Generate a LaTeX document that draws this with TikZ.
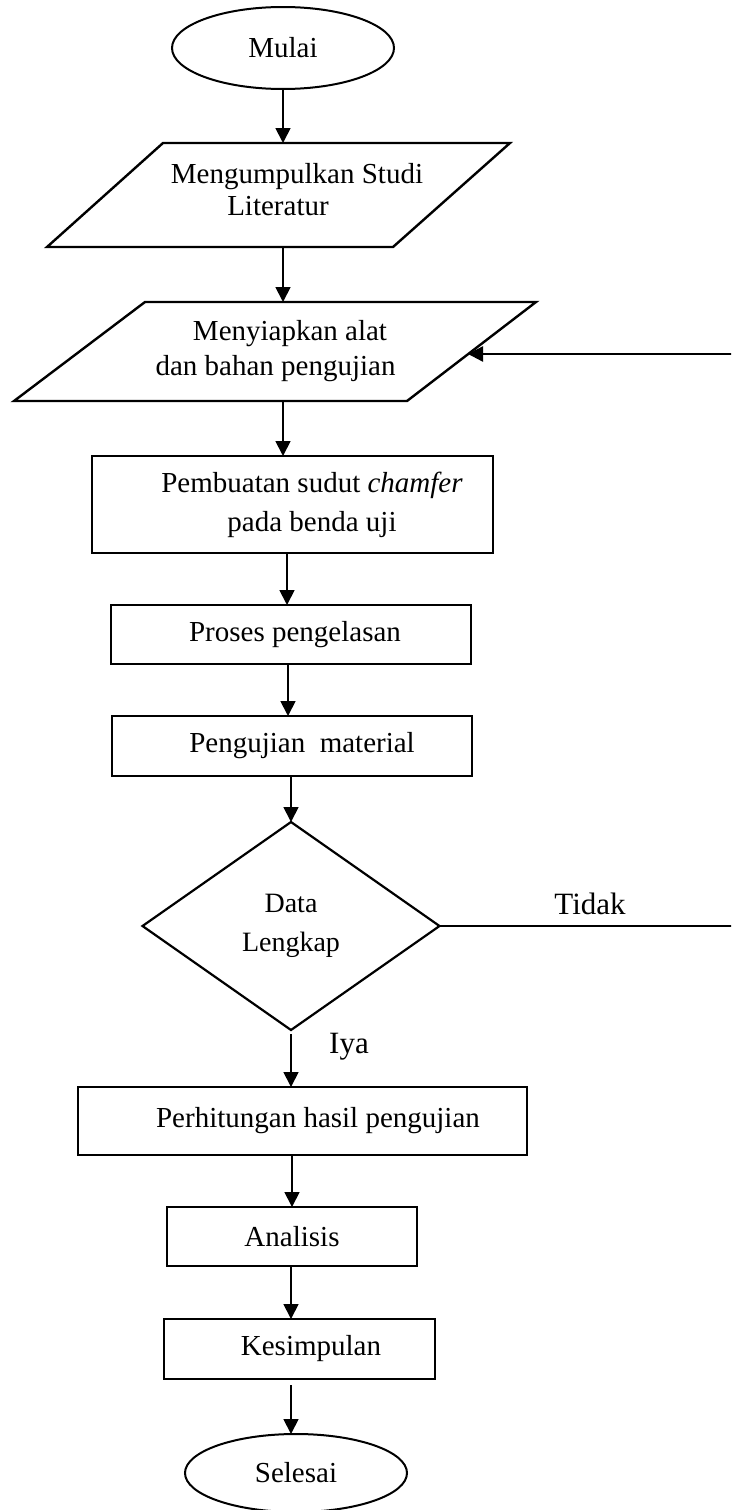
\documentclass[tikz,border=0pt]{standalone}
\usepackage{fontspec}
\setmainfont{Liberation Serif}
\usetikzlibrary{shapes.geometric,arrows.meta,calc}
\begin{document}
\begin{tikzpicture}[x=1pt,y=-1pt,
  every node/.style={inner sep=0pt, outer sep=0pt},
  txt/.style={align=center, font=\fontsize{29}{35}\selectfont},
  box/.style={txt, draw, line width=2pt, rectangle},
  term/.style={txt, draw, line width=2pt, ellipse},
  dec/.style={txt, draw, line width=2.2pt, diamond},
  io/.style={txt},
  pgram/.style={draw, line width=2.4pt, line join=miter},
  arr/.style={line width=1.8pt, -{Triangle[length=15pt,width=15pt]}},
  lbl/.style={font=\fontsize{31}{35}\selectfont}]
\useasboundingbox (0,0) rectangle (731,1510);
\clip (0,0) rectangle (731,1510);

% columns of the connectors
\coordinate (colA) at (283,0);
\coordinate (colB) at (287,0);
\coordinate (colC) at (288,0);
\coordinate (colE) at (292,0);

% nodes
\node[term, minimum width=222pt, minimum height=82pt] (mulai) at (283,48) {Mulai};

\node[io, font=\fontsize{29}{32}\selectfont, minimum width=347pt, minimum height=104pt] (p1) at (278,195)
  {\mbox{\hspace{38pt}Mengumpulkan Studi}\\Literatur\rule[-12pt]{0pt}{12pt}};
\draw[pgram] (163,143) -- (510,143) -- (393,247) -- (47,247) -- cycle;

\node[io, font=\fontsize{29}{35}\selectfont, minimum width=391pt, minimum height=99pt] (p2) at (275.5,351.5)
  {\mbox{\hspace{29pt}Menyiapkan alat}\\dan bahan pengujian};
\draw[pgram] (145,302) -- (536,302) -- (407,401) -- (14,401) -- cycle;
\coordinate (p2e) at (468,354);

\node[box, font=\fontsize{29}{39}\selectfont, minimum width=401pt, minimum height=97pt] (r1) at (292.5,504.5)
  {\mbox{\hspace{39pt}Pembuatan sudut \textit{chamfer}}\\\mbox{\hspace{39pt}pada benda uji}};

\node[box, minimum width=360pt, minimum height=59pt] (r2) at (291,634.5)
  {\mbox{\hspace{8pt}Proses pengelasan}};

\node[box, minimum width=360pt, minimum height=60pt] (r3) at (292,746)
  {\mbox{\hspace{20pt}Pengujian\ \ material}};

\node[dec, font=\fontsize{28}{39}\selectfont, minimum width=297pt, minimum height=208pt] (dec) at (291,926)
  {Data\\Lengkap};

\node[box, minimum width=449pt, minimum height=68pt] (r4) at (302.5,1121)
  {\mbox{\hspace{31pt}Perhitungan hasil pengujian}};

\node[box, minimum width=250pt, minimum height=59pt] (r5) at (292,1236.5) {Analisis};

\node[box, minimum width=271pt, minimum height=60pt] (r6) at (299.5,1349)
  {\mbox{\hspace{23pt}Kesimpulan}};

\node[term, minimum width=222pt, minimum height=78pt] (selesai) at (296,1473) {Selesai};

% labels
\node[lbl, anchor=base] (tidak) at (590,914) {Tidak};
\node[lbl, anchor=base] (iya) at (349,1053) {Iya};

% connectors
\draw[arr] (mulai.south) -- (mulai.south |- p1.north);
\draw[arr] (p1.south -| colA) -- (p2.north -| colA);
\draw[arr] (p2.south -| colA) -- (r1.north -| colA);
\draw[arr] (r1.south -| colB) -- (r2.north -| colB);
\draw[arr] (r2.south -| colC) -- (r3.north -| colC);
\draw[arr] (r3.south -| dec.north) -- (dec.north);
\draw[arr] ($(dec.south)+(0,4)$) -- (r4.north -| dec.south);
\draw[arr] (r4.south -| colE) -- (r5.north -| colE);
\draw[arr] (r5.south -| dec.south) -- (r6.north -| dec.south);
\draw[arr] ($(r6.south -| dec.south)+(0,6)$) -- (selesai.north -| dec.south);

% feedback loop (vertical part lies just outside the picture)
\coordinate (rb) at (736,926);
\coordinate (rt) at (736,354);
\draw[line width=1.6pt] (dec.east) -- (rb) -- (rt);
\draw[arr, line width=2.4pt] (rt) -- (p2e);
\end{tikzpicture}
\end{document}
